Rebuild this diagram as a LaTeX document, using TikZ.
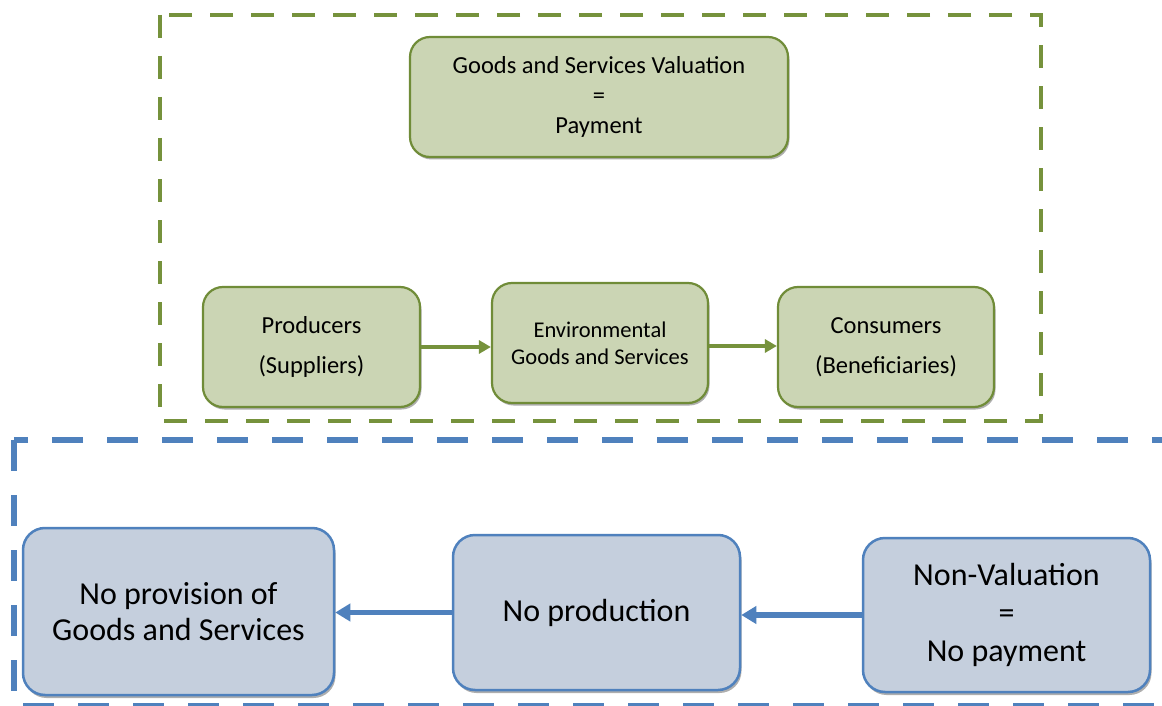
\documentclass[tikz,border=0pt]{standalone}
\usepackage{fontspec}
\setmainfont{Carlito}
\usetikzlibrary{arrows.meta,shadows}
\definecolor{olivedash}{RGB}{118,146,60}
\definecolor{olivefill}{RGB}{203,213,180}
\definecolor{oliveline}{RGB}{112,140,56}
\definecolor{bluedash}{RGB}{79,129,189}
\definecolor{bluefill}{RGB}{197,207,221}
\definecolor{blueline}{RGB}{79,129,189}
\tikzset{
  greenbox/.style={draw=oliveline, line width=2.2pt, fill=olivefill, rounded corners=20pt,
    align=center, inner sep=0pt,
    drop shadow={shadow xshift=1.5pt, shadow yshift=-2.5pt, opacity=0.45, fill=black!70}},
  bluebox/.style={draw=blueline, line width=2.5pt, fill=bluefill, rounded corners=22pt,
    align=center, inner sep=0pt,
    drop shadow={shadow xshift=1.5pt, shadow yshift=-3pt, opacity=0.45, fill=black!70}},
  greenarrow/.style={draw=olivedash, line width=3.2pt, -{Triangle[length=12pt,width=13pt]}},
  bluearrow/.style={draw=bluedash, line width=5.5pt, -{Triangle[length=15pt,width=17pt]}},
  greenframe/.style={draw=olivedash, line width=4.5pt, dash pattern=on 23pt off 18pt},
  blueframe/.style={draw=bluedash, line width=6pt, dash pattern=on 31pt off 24pt},
}
\begin{document}
\begin{tikzpicture}[x=1pt,y=-1pt]
\useasboundingbox (0,0) rectangle (1162,706);
\fill[white] (0,0) rectangle (1162,706);
% frames
\draw[greenframe] (160,15) rectangle (1041,421);
\draw[blueframe] (14,440) rectangle (1185,706);
% green boxes
\node[greenbox, minimum width=378pt, minimum height=120pt, font=\fontsize{24.5}{30}\selectfont]
  (val) at (599,97) {Goods and Services Valuation\\=\\Payment};
\node[greenbox, minimum width=217pt, minimum height=120pt, font=\fontsize{24.5}{30}\selectfont]
  (prod) at (311.5,347) {Producers\\[10pt](Suppliers)};
\node[greenbox, minimum width=216pt, minimum height=120pt, font=\fontsize{22.5}{27}\selectfont]
  (env) at (600,343) {Environmental\\Goods and Services};
\node[greenbox, minimum width=216pt, minimum height=120pt, font=\fontsize{24.5}{30}\selectfont]
  (cons) at (886,347) {Consumers\\[10pt](Beneficiaries)};
\draw[greenarrow] (prod.east) -- (prod.east -| env.west);
\draw[greenarrow] (env.east |- 0,346) coordinate (e1) -- (e1 -| cons.west);
% blue boxes
\node[bluebox, minimum width=311pt, minimum height=167pt, font=\fontsize{32}{36}\selectfont]
  (noprov) at (178.5,611.5) {No provision of\\Goods and Services};
\node[bluebox, minimum width=287pt, minimum height=155pt, font=\fontsize{32}{38}\selectfont]
  (noprod) at (596.5,612.5) {No production};
\node[bluebox, minimum width=287pt, minimum height=154pt, font=\fontsize{32}{38}\selectfont]
  (nonval) at (1006.5,615) {Non-Valuation\\=\\No payment};
\draw[bluearrow] (noprod.west) -- (noprod.west -| noprov.east);
\draw[bluearrow] (nonval.west) -- (nonval.west -| noprod.east);
\end{tikzpicture}
\end{document}
